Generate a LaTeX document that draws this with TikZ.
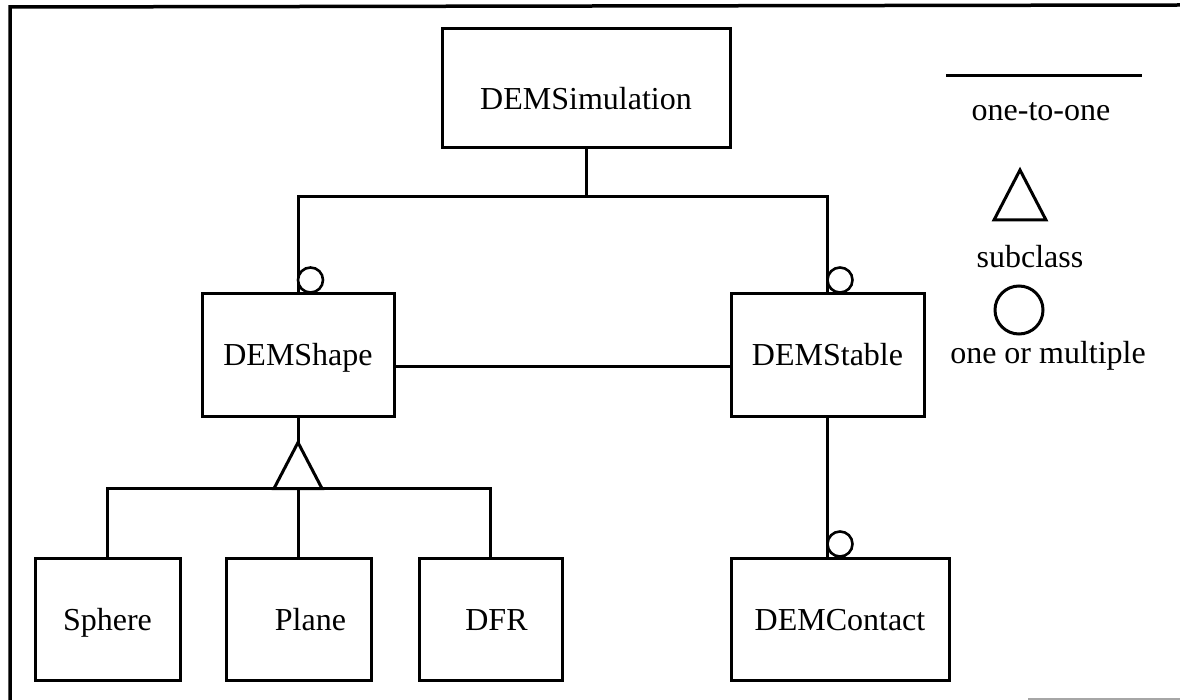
\documentclass[tikz,border=0pt]{standalone}
\usepackage{fontspec}
\setmainfont{Liberation Serif}
\begin{document}
\begin{tikzpicture}[x=1pt,y=-1pt,
  every node/.style={font=\fontsize{32}{38}\selectfont},
  link/.style={line width=3pt},
  cls/.style 2 args={draw, line width=3pt, inner sep=0pt,
    minimum width=#1, minimum height=#2, text height=22pt, text depth=0pt},
  many/.style={draw, line width=2.6pt, fill=white}]
\useasboundingbox (0,0) rectangle (1180,700);

% outer frame
\draw[line width=3.5pt] (10,700) -- (10,7) -- (1180,5);
\draw[gray!70, line width=2pt] (1028,699) -- (1180,699);

% classes
\node[cls={288}{119}] (sim)     at (586,88.5) {\raisebox{-10pt}{DEMSimulation}};
\node[cls={192}{122}] (shape)   at (298,355)  {DEMShape};
\node[cls={193}{122}] (stable)  at (827.5,355) {DEMStable};
\node[cls={145}{122}] (sphere)  at (107.5,619) {Sphere};
\node[cls={145}{122}] (plane)   at (298.5,619) {\hspace*{24pt}Plane};
\node[cls={143}{122}] (dfr)     at (490.5,619) {\hspace*{12pt}DFR};
\node[cls={218}{122}] (contact) at (840,619)  {DEMContact};

% aggregation from the simulation
\coordinate (jn) at (586,197);
\draw[link] (sim.south) -- (jn);
\draw[link] (shape.north) |- (jn) -| (stable.north);
\draw[many] ([shift={(12.5,-12.5)}]shape.north) circle (12.5);
\draw[many] ([shift={(12.5,-12.5)}]stable.north) circle (12.5);

% shape -- stable association
\draw[link] ([yshift=-11pt]shape.east) -- ([yshift=-11pt]stable.west);

% stable -- contacts
\coordinate (ctop) at (stable.south |- contact.north);
\draw[link] (stable.south) -- (ctop);
\draw[many] ([shift={(12.5,-12.5)}]ctop) circle (12.5);

% subclasses of DEMShape
\draw[link] (shape.south) -- ++(0,25) coordinate (apex);
\draw[link, line join=miter] (apex) -- ++(-24,46) -- ++(48,0) -- cycle;
\coordinate (sbus) at ([yshift=-46pt]apex);
\draw[link] (sphere.north) |- (sbus) -| (dfr.north);
\draw[link] (plane.north) -- (plane.north |- sbus);

% legend
\coordinate (lgA) at (946,76);
\coordinate (lgB) at (1142,76);
\draw[link] (lgA) -- (lgB);
\node[anchor=base] (lone) at (1041,121) {one-to-one};
\coordinate (lgT) at (1020,170);
\draw[link, line join=miter] (lgT) -- ++(-26,50) -- ++(52,0) -- cycle;
\node[anchor=base] (lsub) at (1030,268) {subclass};
\node[draw, circle, line width=3pt, minimum size=48pt, inner sep=0pt] (lgC) at (1019,310) {};
\node[anchor=base] (lmany) at (1048,363) {one or multiple};
\end{tikzpicture}
\end{document}
